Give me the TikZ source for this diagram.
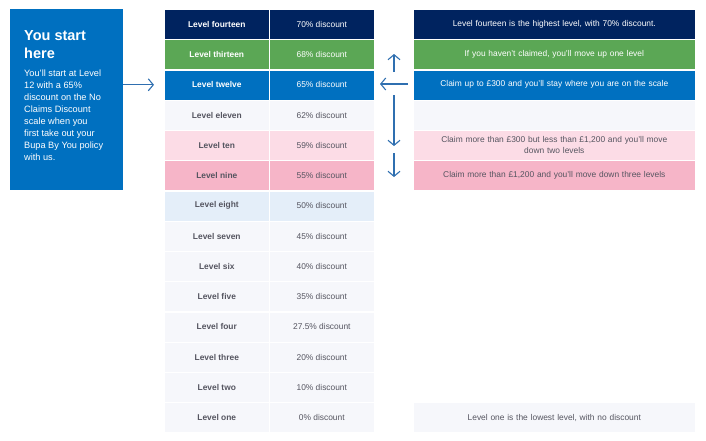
\documentclass[tikz,border=0pt]{standalone}
\usepackage{fontspec}
\setmainfont{Liberation Sans}
\usetikzlibrary{arrows.meta}
\definecolor{navy}{HTML}{00235F}
\definecolor{grn}{HTML}{5BA755}
\definecolor{blu}{HTML}{0070C0}
\definecolor{lav}{HTML}{F6F7FB}
\definecolor{lpink}{HTML}{FCDCE6}
\definecolor{pnk}{HTML}{F6B5C8}
\definecolor{lblu}{HTML}{E4EEF9}
\definecolor{txt}{HTML}{555560}
\definecolor{arr}{HTML}{2F6FB0}
\tikzset{
  cell/.style={minimum height=30pt, inner sep=0pt, draw=white, line width=0.6pt, font=\fontsize{8.4}{11}\selectfont, align=center, anchor=north west},
  lvl/.style={cell, minimum width=105pt, font=\fontsize{8.4}{11}\selectfont\bfseries},
  dsc/.style={cell, minimum width=105pt},
  note/.style={cell, minimum width=282pt, text width=250pt},
  arw/.style={draw=arr, line width=1.1pt, -{Straight Barb[length=5pt,width=12pt]}},
}
\begin{document}
\begin{tikzpicture}[x=1pt,y=-1pt]
\useasboundingbox (0,0) rectangle (706,440);
\fill[lav] (164,9) rectangle (374,433);
\node[fill=blu, minimum width=113pt, minimum height=181pt, anchor=north west, inner sep=0pt] (start) at (10,9) {};
\node[anchor=north west, text=white, align=left, inner sep=0pt, font=\fontsize{14.5}{18}\selectfont\bfseries] (title) at (24,30)
 {You start\\here};
\node[anchor=north west, text=white, align=left, inner sep=0pt, font=\fontsize{9.2}{12}\selectfont] (body) at (24,70)
 {You'll start at Level\\12 with a 65\%\\discount on the No\\Claims Discount\\scale when you\\first take out your\\Bupa By You policy\\with us.};
\def\rowlist{fourteen/70/navy/white, thirteen/68/grn/white, twelve/65/blu/white, eleven/62/lav/txt, ten/59/lpink/txt, nine/55/pnk/txt, eight/50/lblu/txt, seven/45/lav/txt, six/40/lav/txt, five/35/lav/txt, four/27.5/lav/txt, three/20/lav/txt, two/10/lav/txt, one/0/lav/txt}
\foreach \n/\d/\bg/\fg [count=\i from 0] in \rowlist {
  \node[lvl, fill=\bg, text=\fg] (l\n) at (164,9+30.25*\i) {Level \n};
  \node[dsc, fill=\bg, text=\fg] (d\n) at (269,9+30.25*\i) {\d\% discount};
}
\node[note, fill=navy, text=white] (n14) at (413,9) {Level fourteen is the highest level, with 70\% discount.};
\node[note, fill=grn, text=white] (n13) at (413,39.25) {If you haven't claimed, you'll move up one level};
\node[note, fill=blu, text=white] (n12) at (413,69.5) {Claim up to £300 and you'll stay where you are on the scale};
\node[note, fill=lav] (n11) at (413,99.75) {};
\node[note, fill=lpink, text=txt] (n10) at (413,130) {Claim more than £300 but less than £1,200 and you'll move\\down two levels};
\node[note, fill=pnk, text=txt] (n9) at (413,160.25) {Claim more than £1,200 and you'll move down three levels};
\node[note, fill=lav, text=txt] (n1) at (413,402.25) {Level one is the lowest level, with no discount};
\coordinate (a0) at (394,72); \coordinate (a1) at (394,54);
\coordinate (b0) at (408,84); \coordinate (b1) at (380,84);
\coordinate (c0) at (394,95); \coordinate (c1) at (394,146);
\coordinate (e0) at (394,153); \coordinate (e1) at (394,177);
\draw[arw] (start.east |- dtwelve) -- ([xshift=-10pt]ltwelve.west);
\draw[arw] (a0) -- (a1);
\draw[arw] (b0) -- (b1);
\draw[arw] (c0) -- (c1);
\draw[arw] (e0) -- (e1);
\end{tikzpicture}
\end{document}
